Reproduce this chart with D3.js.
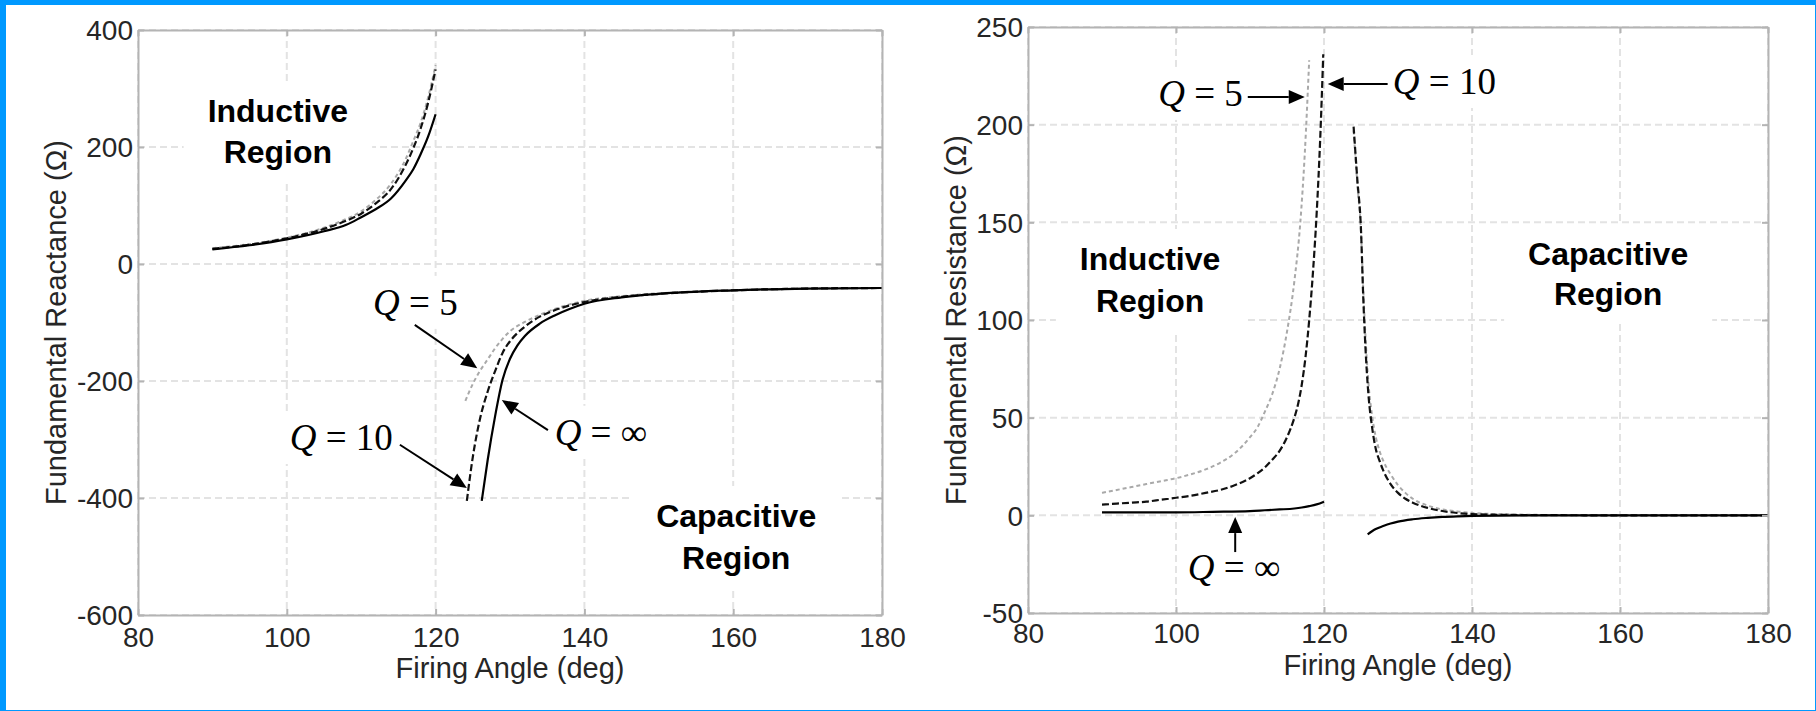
<!DOCTYPE html>
<html>
<head>
<meta charset="utf-8">
<script src="https://cdn.jsdelivr.net/npm/d3@7"></script>
<style>
  html, body { margin: 0; padding: 0; background: #fff; }
  svg { display: block; }
</style>
</head>
<body>
<svg id="fig" width="1816" height="711"></svg>
<script>
// ---------------- Fundamental reactance (ohm) vs firing angle (deg) ----------------
const reactIndAngle   = [90, 95, 100, 105, 108, 110, 112, 114, 116, 117, 118, 119, 120];
const reactQ5Ind      = [27, 34, 45, 62, 77, 90, 110, 137, 180, 210, 242, 285, 340];
const reactQ10Ind     = [26, 33, 44, 60, 74, 86, 104, 128, 170, 198, 232, 276, 333];
const reactQinfInd    = [25, 32, 42, 56, 67, 80, 94, 112, 143, 162, 188, 218, 256];

const reactQ5CapAngle = [124, 125, 126, 127, 128, 129, 130, 132, 134, 136, 138, 140, 145, 150, 160, 170, 180];
const reactQ5Cap      = [-234, -205, -182, -163, -144, -128, -115, -99, -87, -77, -69, -63, -55, -50, -45, -42, -41];
const reactQ10CapAngle = [124.2, 125, 126, 127, 128, 129, 130, 131, 132, 134, 136, 138, 140, 145, 150, 160, 170, 180];
const reactQ10Cap      = [-405, -330, -263, -218, -183, -152, -132, -118, -107, -90, -79, -71, -65, -56, -51, -45, -42, -41];
const reactQinfCapAngle = [126.2, 127, 128, 129, 130, 131, 132, 134, 136, 138, 140, 145, 150, 160, 170, 180];
const reactQinfCap      = [-405, -335, -260, -198, -162, -139, -123, -102, -88, -77, -68, -57, -51, -45, -42, -41];

// ---------------- Fundamental resistance (ohm) vs firing angle (deg) ----------------
const resQ5IndAngle = [90, 92, 94, 96, 98, 100, 102, 104, 106, 108, 110, 111, 112, 113, 114, 115, 116, 116.8, 117.4, 118];
const resQ5Ind      = [11.5, 13, 14.5, 16, 17.5, 19, 21, 23.5, 27, 32, 40, 45, 53, 62, 75, 94, 120, 150, 185, 233];
const resQ10IndAngle = [90, 92, 94, 96, 98, 100, 102, 104, 106, 108, 110, 111, 112, 113, 114, 115, 115.5, 116, 116.5, 117, 117.5, 118, 118.5, 119, 119.5, 119.9];
const resQ10Ind      = [5.5, 6, 6.5, 7, 8, 9, 10, 11.5, 13, 15.5, 19, 21.5, 24.5, 28.5, 33, 40, 44.5, 50, 57, 67, 81, 100, 124, 154, 194, 236];
const resQinfIndAngle = [90, 95, 100, 105, 110, 112, 114, 116, 117, 118, 119, 120];
const resQinfInd      = [1.5, 1.5, 1.5, 1.8, 2.2, 2.6, 3, 3.5, 4, 4.7, 5.6, 7];

const resCapAngle = [124, 124.5, 125, 125.3, 125.6, 126, 126.5, 127, 127.5, 128, 129, 130, 131, 132, 134, 136, 138, 140, 145, 150, 160, 180];
const resQ5Cap    = [197, 170, 145, 116, 92, 68, 51, 40, 33, 28, 21, 15.5, 11.5, 8.5, 5, 3, 2, 1.2, 0.5, 0.2, 0, 0];
const resQ10Cap   = [199, 172, 146, 112, 86, 62, 45, 34, 28, 23, 16, 11.5, 8.5, 6.5, 3.8, 2.2, 1.2, 0.6, 0.2, 0.1, 0, 0];
const resQinfCapAngle = [125.9, 127, 128, 129, 130, 132, 134, 136, 138, 140, 150, 160, 180];
const resQinfCap      = [-9.7, -7, -5.5, -4.2, -3.2, -2, -1.3, -0.8, -0.5, -0.3, 0, 0, 0];

// ---------------- Axis ticks ----------------
const angleTicks = [80, 100, 120, 140, 160, 180];
const reactTicks = [-600, -400, -200, 0, 200, 400];
const resTicks = [-50, 0, 50, 100, 150, 200, 250];

// ---------------- Line styles per quality factor ----------------
const qStyle = {
  '5':   { stroke: '#a9a9a9', dash: '4,3', width: 2 },
  '10':  { stroke: '#111111', dash: '7,3', width: 2.2 },
  'inf': { stroke: '#000000', dash: null,  width: 2.2 }
};

const zip = (xs, ys) => xs.map((x, i) => [x, ys[i]]);

const reactSeries = [
  { q: '5',   segments: [zip(reactIndAngle, reactQ5Ind),   zip(reactQ5CapAngle, reactQ5Cap)] },
  { q: '10',  segments: [zip(reactIndAngle, reactQ10Ind),  zip(reactQ10CapAngle, reactQ10Cap)] },
  { q: 'inf', segments: [zip(reactIndAngle, reactQinfInd), zip(reactQinfCapAngle, reactQinfCap)] }
];
const resSeries = [
  { q: '5',   segments: [zip(resQ5IndAngle, resQ5Ind),     zip(resCapAngle, resQ5Cap)] },
  { q: '10',  segments: [zip(resQ10IndAngle, resQ10Ind),   zip(resCapAngle, resQ10Cap)] },
  { q: 'inf', segments: [zip(resQinfIndAngle, resQinfInd), zip(resQinfCapAngle, resQinfCap)] }
];

// Annotations in data units: label text anchor, arrow tail and arrow tip
const reactNotes = [
  { label: '5',  text: [111.6, -87],  tail: [117.2, -104], tip: [125.6, -178] },
  { label: '10', text: [100.4, -318], tail: [115.2, -309], tip: [124.2, -383] },
  { label: '\u221E', text: [136.0, -309], tail: [135.1, -284], tip: [128.9, -232.5] }
];
const resNotes = [
  { label: '5',  text: [97.6, 209.6],  tail: [109.7, 214.2], tip: [117.4, 214.2] },
  { label: '10', text: [129.3, 215.7], tail: [128.6, 220.8], tip: [120.5, 220.8] },
  { label: '\u221E', text: [101.6, -33.1], tail: [108.0, -18.8], tip: [108.0, -0.9] }
];
const reactRegions = [
  { lines: ['Inductive', 'Region'],  x: 98.8,  y: [242.7, 172.6] },
  { lines: ['Capacitive', 'Region'], x: 160.4, y: [-449.6, -521.4] }
];
const resRegions = [
  { lines: ['Inductive', 'Region'],  x: 96.5,  y: [125.6, 104.1] },
  { lines: ['Capacitive', 'Region'], x: 158.4, y: [128.2, 107.7] }
];

const svg = d3.select('#fig');
const W = 1816, H = 711;
svg.append('rect').attr('width', W).attr('height', H).attr('fill', '#ffffff');

// window frame
const frameColor = '#0099ff';
svg.append('rect').attr('x', 0).attr('y', 0).attr('width', W).attr('height', 5).attr('fill', frameColor);
svg.append('rect').attr('x', 0).attr('y', 0).attr('width', 6).attr('height', H).attr('fill', frameColor);
svg.append('rect').attr('x', W - 1).attr('y', 0).attr('width', 1).attr('height', H).attr('fill', frameColor);
svg.append('rect').attr('x', 0).attr('y', H - 1).attr('width', W).attr('height', 1).attr('fill', frameColor);

const sans = "'Liberation Sans', Arial, Helvetica, sans-serif";
const serif = "'Liberation Serif', 'DejaVu Serif', 'Times New Roman', serif";
const boxColor = '#b4b4b4';
const gridColor = '#e3e3e3';
const plainNumber = d => String(d);

function drawPanel(cfg) {
  const g = svg.append('g');
  const x = d3.scaleLinear().domain([80, 180]).range([cfg.left, cfg.left + cfg.width]);
  const y = d3.scaleLinear().domain(cfg.yDomain).range([cfg.top + cfg.height, cfg.top]);

  // dashed grid
  const grid = g.append('g');
  grid.selectAll('line.gx').data(angleTicks).join('line')
    .attr('x1', d => x(d)).attr('x2', d => x(d))
    .attr('y1', cfg.top).attr('y2', cfg.top + cfg.height);
  grid.selectAll('line.gy').data(cfg.yTicks).join('line')
    .attr('x1', cfg.left).attr('x2', cfg.left + cfg.width)
    .attr('y1', d => y(d)).attr('y2', d => y(d));
  grid.selectAll('line')
    .attr('stroke', gridColor).attr('stroke-width', 2).attr('stroke-dasharray', '7,4');

  // text backgrounds (drawn over grid, under curves)
  const bgLayer = g.append('g');

  // curves
  const line = d3.line().x(d => x(d[0])).y(d => y(d[1])).curve(d3.curveMonotoneX);
  cfg.series.forEach(s => {
    const st = qStyle[s.q];
    s.segments.forEach(seg => {
      g.append('path').datum(seg)
        .attr('d', line)
        .attr('fill', 'none')
        .attr('stroke', st.stroke)
        .attr('stroke-width', st.width)
        .attr('stroke-dasharray', st.dash)
        .attr('stroke-linejoin', 'round');
    });
  });

  // axes box and inward ticks
  const axB = g.append('g').attr('transform', `translate(0,${cfg.top + cfg.height})`)
    .call(d3.axisBottom(x).tickValues(angleTicks).tickSizeInner(-6).tickSizeOuter(0).tickFormat(plainNumber));
  const axT = g.append('g').attr('transform', `translate(0,${cfg.top})`)
    .call(d3.axisTop(x).tickValues(angleTicks).tickSizeInner(-6).tickSizeOuter(0).tickFormat(''));
  const axL = g.append('g').attr('transform', `translate(${cfg.left},0)`)
    .call(d3.axisLeft(y).tickValues(cfg.yTicks).tickSizeInner(-6).tickSizeOuter(0).tickFormat(plainNumber));
  const axR = g.append('g').attr('transform', `translate(${cfg.left + cfg.width},0)`)
    .call(d3.axisRight(y).tickValues(cfg.yTicks).tickSizeInner(-6).tickSizeOuter(0).tickFormat(''));
  [axB, axT, axL, axR].forEach(a => {
    a.select('.domain').attr('stroke', boxColor).attr('stroke-width', 2);
    a.selectAll('.tick line').attr('stroke', boxColor).attr('stroke-width', 2);
    a.selectAll('.tick text').attr('fill', '#262626').attr('font-family', sans).attr('font-size', 28);
  });
  axB.selectAll('.tick text').attr('y', cfg.xTickDy).attr('dy', 0);
  axL.selectAll('.tick text').attr('x', -5).attr('dy', '0.35em');

  // axis titles
  g.append('text')
    .attr('x', cfg.left + cfg.width / 2).attr('y', cfg.xTitleY)
    .attr('text-anchor', 'middle').attr('font-family', sans).attr('font-size', 29)
    .attr('fill', '#262626').text('Firing Angle (deg)');
  g.append('text')
    .attr('transform', `translate(${cfg.yTitleX},${cfg.top + cfg.height / 2}) rotate(-90)`)
    .attr('text-anchor', 'middle').attr('font-family', sans).attr('font-size', 29)
    .attr('fill', '#262626').text(cfg.yTitle);

  // region labels
  cfg.regions.forEach(r => {
    const t = g.append('text').attr('text-anchor', 'middle')
      .attr('font-family', sans).attr('font-weight', 'bold').attr('font-size', 32).attr('fill', '#000');
    r.lines.forEach((ln, i) => {
      t.append('tspan').attr('x', x(r.x)).attr('y', y(r.y[i])).text(ln);
    });
    const b = t.node().getBBox();
    bgLayer.append('rect').attr('x', b.x - 24).attr('y', b.y - 12)
      .attr('width', b.width + 48).attr('height', b.height + 24).attr('fill', '#fff');
  });

  // Q annotations with arrows
  cfg.notes.forEach(n => {
    const t = g.append('text')
      .attr('x', x(n.text[0])).attr('y', y(n.text[1]))
      .attr('font-family', serif).attr('font-size', 37).attr('fill', '#000');
    t.append('tspan').attr('font-style', 'italic').text('Q');
    t.append('tspan').text(' = ' + n.label);
    const b = t.node().getBBox();
    bgLayer.append('rect').attr('x', b.x - 8).attr('y', b.y - 6)
      .attr('width', b.width + 16).attr('height', b.height + 12).attr('fill', '#fff');

    const x0 = x(n.tail[0]), y0 = y(n.tail[1]);
    const x1 = x(n.tip[0]), y1 = y(n.tip[1]);
    const ang = Math.atan2(y1 - y0, x1 - x0);
    const L = 16, hw = 7;
    const bx = x1 - L * Math.cos(ang), by = y1 - L * Math.sin(ang);
    g.append('line').attr('x1', x0).attr('y1', y0).attr('x2', bx).attr('y2', by)
      .attr('stroke', '#000').attr('stroke-width', 2);
    const p = [
      [x1, y1],
      [bx + hw * Math.sin(ang), by - hw * Math.cos(ang)],
      [bx - hw * Math.sin(ang), by + hw * Math.cos(ang)]
    ];
    g.append('polygon').attr('points', p.map(d => d.join(',')).join(' ')).attr('fill', '#000');
  });
}

drawPanel({
  left: 138, top: 30, width: 744, height: 585,
  yDomain: [-600, 400], yTicks: reactTicks,
  series: reactSeries, notes: reactNotes, regions: reactRegions,
  yTitle: 'Fundamental Reactance (\u03A9)', yTitleX: 66, xTitleY: 678, xTickDy: 32
});

drawPanel({
  left: 1028, top: 27, width: 740, height: 586,
  yDomain: [-50, 250], yTicks: resTicks,
  series: resSeries, notes: resNotes, regions: resRegions,
  yTitle: 'Fundamental Resistance (\u03A9)', yTitleX: 966, xTitleY: 675, xTickDy: 30
});
</script>
</body>
</html>
